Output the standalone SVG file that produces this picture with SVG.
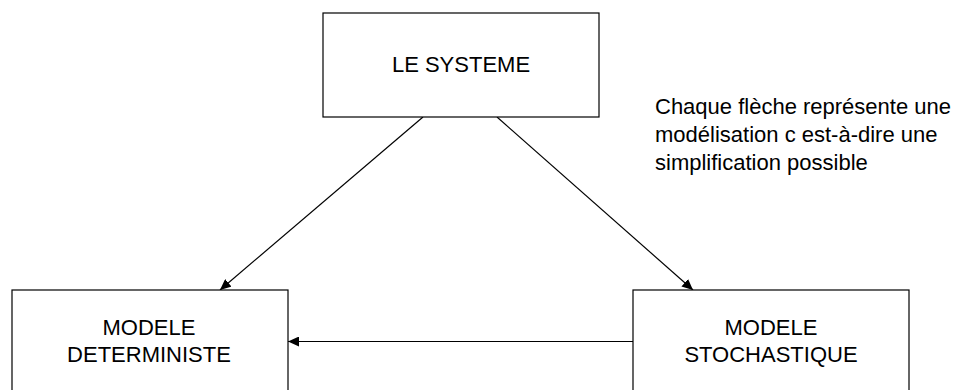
<svg xmlns="http://www.w3.org/2000/svg" width="969" height="390" viewBox="0 0 969 390">
  <defs>
    <style>
      .box { fill: #ffffff; stroke: #000000; stroke-width: 1.2; }
      .lbl { font-family: "Liberation Sans", Arial, sans-serif; font-size: 22px; fill: #000000; }
      .mid { text-anchor: middle; }
      .conn { stroke: #000000; stroke-width: 1.2; fill: none; marker-end: url(#arrow); }
    </style>
    <marker id="arrow" viewBox="0 0 11 10" refX="11" refY="5" markerWidth="11" markerHeight="10" markerUnits="userSpaceOnUse" orient="auto">
      <path d="M0,0 L11,5 L0,10 Z" fill="#000000"/>
    </marker>
  </defs>
  <rect width="969" height="390" fill="#ffffff"/>
  <g id="connectors">
    <line class="conn" x1="423" y1="117" x2="220" y2="290"/>
    <line class="conn" x1="497" y1="117" x2="693" y2="290"/>
    <line class="conn" x1="633" y1="341.5" x2="288" y2="341.5"/>
  </g>
  <g id="systeme">
    <rect class="box" x="323" y="13" width="276" height="104"/>
    <text class="lbl mid" x="461" y="72">LE SYSTEME</text>
  </g>
  <g id="deterministe">
    <rect class="box" x="12" y="290" width="276" height="130"/>
    <text class="lbl mid" x="149" y="335">MODELE</text>
    <text class="lbl mid" x="149" y="362">DETERMINISTE</text>
  </g>
  <g id="stochastique">
    <rect class="box" x="633" y="290" width="276" height="130"/>
    <text class="lbl mid" x="771" y="335">MODELE</text>
    <text class="lbl mid" x="771" y="362">STOCHASTIQUE</text>
  </g>
  <g id="note">
    <text class="lbl" x="655" y="114">Chaque flèche représente une</text>
    <text class="lbl" x="655" y="142">modélisation c est-à-dire une</text>
    <text class="lbl" x="655" y="170">simplification possible</text>
  </g>
</svg>
